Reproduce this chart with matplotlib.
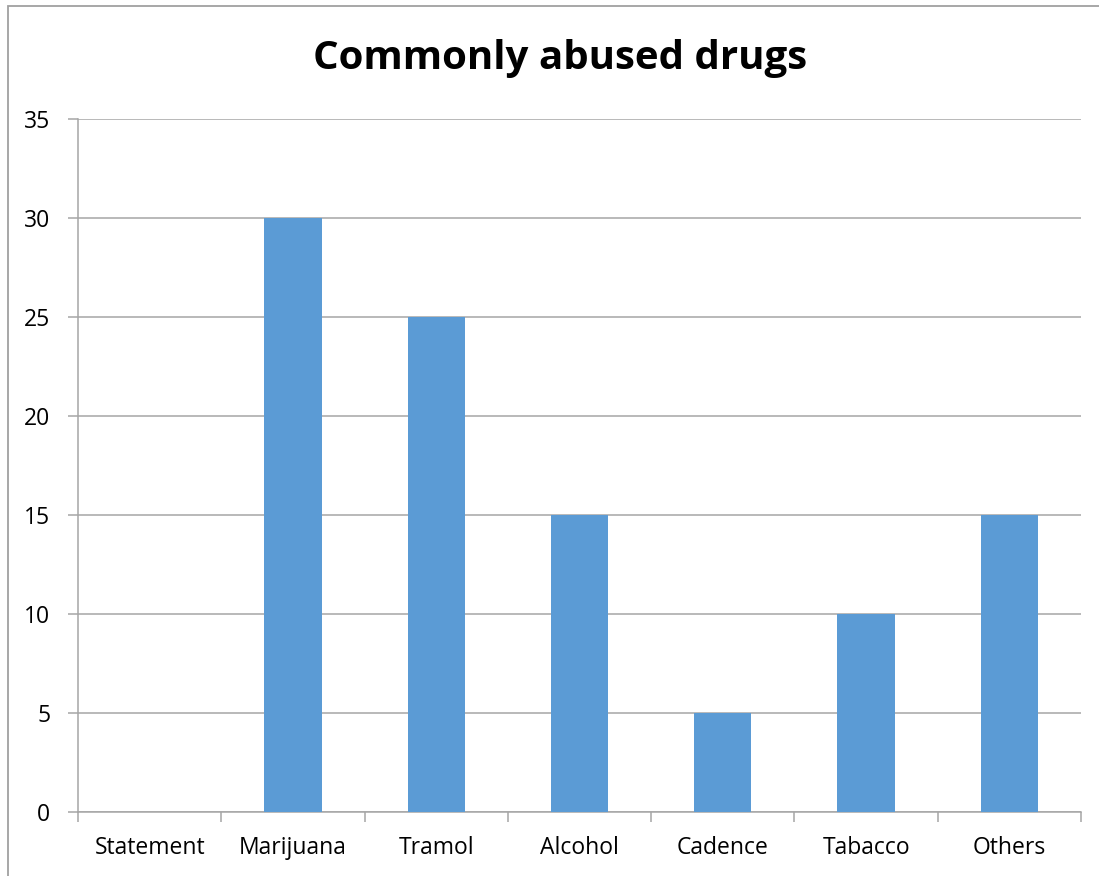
import matplotlib
matplotlib.use("Agg")
import matplotlib.pyplot as plt
from matplotlib.patches import Rectangle

categories = ["Statement", "Marijuana", "Tramol", "Alcohol", "Cadence", "Tabacco", "Others"]
values = [0, 30, 25, 15, 5, 10, 15]
yticks = [0, 5, 10, 15, 20, 25, 30, 35]

plt.rcParams['font.family'] = ['Open Sans', 'DejaVu Sans']

W, H = 1099, 876
fig = plt.figure(figsize=(W / 100, H / 100), dpi=100)
ax = fig.add_axes([78 / W, 1 - 812 / H, (1081 - 78) / W, (812 - 119) / H])

x = list(range(len(categories)))
ax.bar(x, values, width=0.4, color="#5B9BD5", zorder=3)

ax.set_xlim(-0.5, len(categories) - 0.5)
ax.set_ylim(0, 35)
ax.set_yticks(yticks)
ax.set_yticklabels([str(v) for v in yticks], fontsize=16.5)
ax.yaxis.grid(True, color="#A6A6A6", linewidth=1.1, zorder=0)
ax.set_axisbelow(True)

ax.set_xticks(x)
ax.set_xticklabels(categories, fontsize=16.5)
ax.tick_params(axis="x", length=0, pad=17)
ax.set_xticks([i - 0.5 for i in range(len(categories) + 1)], minor=True)
ax.tick_params(axis="x", which="minor", length=7, color="#A6A6A6", width=1.1)
ax.tick_params(axis="y", length=7, color="#A6A6A6", width=1.1, pad=13)

for s in ["top", "right"]:
    ax.spines[s].set_visible(False)
for s in ["left", "bottom"]:
    ax.spines[s].set_color("#A6A6A6")
    ax.spines[s].set_linewidth(1.1)

fig.text(560 / W, 1 - 58 / H, "Commonly abused drugs", ha="center", va="center",
         fontsize=29, fontweight="bold")

fig.patches.append(Rectangle((8 / W, -0.1), 1.2, 1 - 6 / H + 0.1, transform=fig.transFigure,
                             fill=False, edgecolor="#A0A0A0", linewidth=1.3))

fig.savefig("out.png", dpi=100)
